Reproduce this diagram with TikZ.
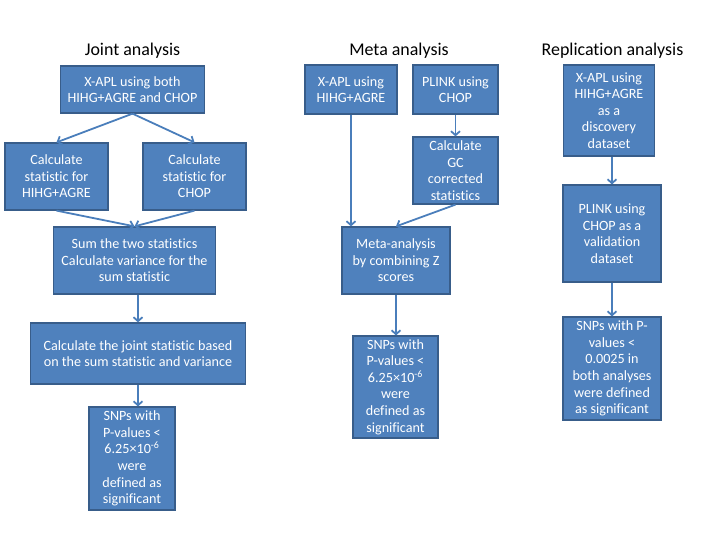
\documentclass[tikz,border=0pt]{standalone}
\usepackage{fontspec}
\setmainfont{Carlito}[Ligatures=CommonOff]
\usepackage{tikz}
\usetikzlibrary{arrows.meta}
\usepackage{xcolor}
\definecolor{boxfill}{HTML}{4F81BD}
\definecolor{boxline}{HTML}{385D8A}
\definecolor{arrowblue}{HTML}{4A7EBB}

\begin{document}
\begin{tikzpicture}[x=1bp, y=-1bp,
  box/.style={draw=boxline, line width=1.5pt, fill=boxfill, text=white, align=center,
    inner sep=1pt, font=\fontsize{14.2}{16.6}\selectfont},
  title/.style={anchor=base, font=\fontsize{18}{20}\selectfont},
  arr/.style={draw=arrowblue, line width=1.8pt, -{Straight Barb[length=4pt,width=9pt]}}]
\useasboundingbox (0,0) rectangle (720,540);
% Joint analysis
\node[title] (tj) at (132.5,56) {Joint analysis};
\node[box, minimum width=145, minimum height=47] (ja) at (132.5,89.5) {X-APL using both\\HIHG+AGRE and CHOP};
\node[box, minimum width=103, minimum height=67] (jb) at (56.5,176.5) {Calculate\\statistic for\\HIHG+AGRE};
\node[box, minimum width=103, minimum height=67] (jc) at (194.5,176.5) {Calculate\\statistic for\\CHOP};
\node[box, minimum width=163, minimum height=67] (jd) at (134.5,260.5) {Sum the two statistics\\Calculate variance for the\\sum statistic};
\node[box, minimum width=216, minimum height=61] (je) at (138,353.5) {Calculate the joint statistic based\\on the sum statistic and variance};
\node[box, minimum width=86, minimum height=103] (jf) at (132,458.5) {SNPs with\\P-values <\\6.25×10\textsuperscript{-6}\\were\\defined as\\significant};
\draw[arr] (ja.south) -- (jb.north);
\draw[arr] (ja.south) -- (jc.north);
\draw[arr] (jb.south) -- (jd.north);
\draw[arr] (jc.south) -- (jd.north);
\draw[arr] (je.north |- jd.south) -- (je.north);
\draw[arr] (je.south) -- (je.south |- jf.north);
% Meta analysis
\node[title] (tm) at (399,56) {Meta analysis};
\node[box, minimum width=92, minimum height=49] (ma) at (351,89.5) {X-APL using\\HIHG+AGRE};
\node[box, minimum width=85, minimum height=49] (mb) at (455.5,89.5) {PLINK using\\CHOP};
\node[box, minimum width=85, minimum height=67] (mc) at (455.5,170.5) {Calculate\\GC\\corrected\\statistics};
\node[box, minimum width=108, minimum height=67] (md) at (396,260.5) {Meta-analysis\\by combining Z\\scores};
\node[box, minimum width=85, minimum height=102] (me) at (395.5,387) {SNPs with\\P-values <\\6.25×10\textsuperscript{-6}\\were\\defined as\\significant};
\draw[arr] (ma.south) -- (ma.south |- md.north);
\draw[arr] (mb) -- (mc);
\draw[arr] (mc.south) -- (md.north);
\draw[arr] (md.south) -- (md.south |- me.north);
% Replication analysis
\node[title] (tr) at (612.5,56) {Replication analysis};
\node[box, minimum width=91, minimum height=91] (ra) at (609,110.5) {X-APL using\\HIHG+AGRE\\as a\\discovery\\dataset};
\node[box, minimum width=98, minimum height=97] (rb) at (612,233.5) {PLINK using\\CHOP as a\\validation\\dataset};
\node[box, minimum width=98, minimum height=103] (rc) at (612,368.5) {SNPs with P-\\values <\\0.0025 in\\both analyses\\were defined\\as significant};
\draw[arr] (rb.north |- ra.south) -- (rb.north);
\draw[arr] (rb) -- (rc);
\end{tikzpicture}
\end{document}
